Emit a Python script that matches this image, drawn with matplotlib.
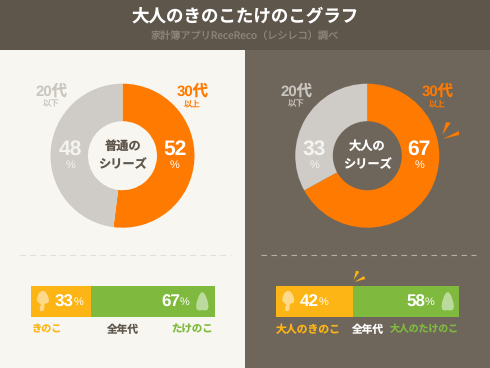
import matplotlib
matplotlib.use('Agg')
import matplotlib.pyplot as plt
from matplotlib.patches import Polygon, Rectangle

plt.rcParams['font.family'] = ['Noto Sans CJK JP', 'DejaVu Sans']
plt.rcParams['text.hinting'] = 'none'
plt.rcParams['text.hinting_factor'] = 1

# Data
donut_left = [52, 48]
donut_right = [67, 33]
bar_left = [33, 67]
bar_right = [42, 58]
age_old = ['30代', '以上']
age_young = ['20代', '以下']
center_left = ['普通の', 'シリーズ']
center_right = ['大人の', 'シリーズ']
title = '大人のきのこたけのこグラフ'
subtitle = '家計簿アプリReceReco（レシレコ）調べ'

# Colours
HEAD = '#5e554b'
LIGHT = '#f7f6f0'
DARK = '#6f665b'
ORANGE = '#ff7a00'
GREY = '#cfccc8'
YELLOW = '#fdb515'
GREEN = '#7fba3e'
W, H = 490, 368
NUM = ['Liberation Sans', 'Noto Sans CJK JP']

fig = plt.figure(figsize=(W / 100, H / 100), dpi=100)

# Background layer in pixel coords
bg = fig.add_axes([0, 0, 1, 1], zorder=0)
bg.set_xlim(0, W)
bg.set_ylim(H, 0)
bg.axis('off')
bg.add_patch(Rectangle((0, 0), W, 50, color=HEAD, lw=0))
bg.add_patch(Rectangle((0, 50), 245, H - 50, color=LIGHT, lw=0))
bg.add_patch(Rectangle((245, 50), 245, H - 50, color=DARK, lw=0))
bg.plot([20, 231], [255, 255], color='#e2dfd8', lw=0.8, dashes=(5, 4))
bg.plot([261, 476], [255, 255], color='#b5afa6', lw=0.8, dashes=(5, 4))


def px_axes(x0, y0, x1, y1, z=1):
	return fig.add_axes([x0 / W, 1 - y1 / H, (x1 - x0) / W, (y1 - y0) / H], zorder=z)


def donut(cx, cy, values) :
	ax = px_axes(cx - 72, cy - 72, cx + 72, cy + 72)
	ax.pie(values, colors=[ORANGE, GREY], startangle=90, counterclock=False,
		radius=1, wedgeprops={'width': 1 - 34.5 / 72, 'linewidth': 0})
	ax.set_xlim(-1, 1)
	ax.set_ylim(-1, 1)
	ax.patch.set_alpha(0)


def stacked_bar(x0, x1, values) :
	ax = px_axes(x0, 286, x1, 316.5)
	ax.barh([0], [values[0]], color=YELLOW, height=1)
	ax.barh([0], [values[1]], left=[values[0]], color=GREEN, height=1)
	ax.set_xlim(0, sum(values))
	ax.set_ylim(-0.5, 0.5)
	ax.axis('off')


donut(122.5, 155.7, donut_left)
donut(367.3, 155.7, donut_right)
stacked_bar(30.5, 214.7, bar_left)
stacked_bar(275.7, 459.3, bar_right)

# Overlay layer for text and icons
top = fig.add_axes([0, 0, 1, 1], zorder=5)
top.set_xlim(0, W)
top.set_ylim(H, 0)
top.axis('off')


def txt(x, y, s, size, color, weight='bold', ha='center', family=None) :
	top.text(x, y, s, fontsize=size, color=color, fontweight=weight, ha=ha, va='center',
		family=family if family else plt.rcParams['font.family'])


txt(245, 16.5, title, 12.6, '#ffffff')
txt(245, 35.5, subtitle, 7.3, '#8f877c', 'regular')


def donut_text(dx, x_young, x_old, x_pyoung, x_pold, values, center, cen_col, young_col) :
	txt(x_young, 91, age_young[0], 11, young_col, family=NUM)
	txt(x_young, 103.5, age_young[1], 6, young_col, 'regular')
	txt(x_old, 91, age_old[0], 11, ORANGE, family=NUM)
	txt(x_old, 103.5, age_old[1], 6, ORANGE, 'regular')
	txt(x_pold, 149.5, str(values[0]), 15, '#ffffff', family=NUM)
	txt(x_pold, 165, '%', 7.8, '#ffffff', 'regular', family=NUM)
	txt(x_pyoung, 149.5, str(values[1]), 15, '#f5f3ee', family=NUM)
	txt(x_pyoung, 165, '%', 7.8, '#f5f3ee', 'regular', family=NUM)
	txt(dx, 146, center[0], 8.8, cen_col)
	txt(dx, 164, center[1], 8.8, cen_col)


donut_text(122.5, 51.7, 192.3, 70, 174.7, donut_left, center_left, HEAD, '#c9c5bf')
donut_text(367.3, 296.7, 437.3, 314, 419.3, donut_right, center_right, '#ffffff', '#c9c5bf')


def mushroom(x) :
	shape = [(-1, 291), (1, 291), (3, 292.5), (5, 296), (6, 300), (5.5, 302.5), (3, 303.5), (1.5, 304),
		(1.2, 309), (0, 311), (-3, 311), (-3.3, 308), (-2, 304.5), (-4, 303), (-6, 301), (-5.8, 297), (-4, 293)]
	pts = [(x + dx, y) for dx, y in shape]
	top.add_patch(Polygon(pts, closed=True, color='#ffd98a', lw=0, zorder=3))


def shoot(x) :
	shape = [(-6.2, 307), (-5.6, 302), (-3.6, 296), (-1.4, 292.6), (0, 292.2), (1.4, 292.6), (3.6, 296),
		(5.6, 302), (6.2, 307), (5, 310), (2.5, 310.5), (0, 310), (-2.5, 310.5), (-5, 310)]
	pts = [(x + dx, y) for dx, y in shape]
	top.add_patch(Polygon(pts, closed=True, color='#bbdb9c', lw=0, zorder=3))


mushroom(43)
mushroom(288.3)
shoot(202.3)
shoot(447.7)


def bar_pct(x_num, x_sign, value) :
	txt(x_num, 302, str(value), 12, '#ffffff', ha='left', family=NUM)
	txt(x_sign, 302.5, '%', 8, '#ffffff', 'regular', ha='left', family=NUM)


bar_pct(55, 73.3, bar_left[0])
bar_pct(161.7, 180, bar_left[1])
bar_pct(300, 318.3, bar_right[0])
bar_pct(406, 424.3, bar_right[1])

txt(31.7, 329.3, 'きのこ', 7.3, YELLOW, ha='left')
txt(122.3, 329.3, '全年代', 7.7, HEAD)
txt(212.7, 329.3, 'たけのこ', 7.5, GREEN, ha='right')
txt(276, 329.3, '大人のきのこ', 7.8, YELLOW, ha='left')
txt(367.3, 329.3, '全年代', 7.7, '#ffffff')
txt(458.7, 329.3, '大人のたけのこ', 7.1, GREEN, ha='right')

# Little emphasis bursts
for pts in [[(446, 122.3), (450.7, 122.7), (442.3, 135)], [(459, 131), (459, 135), (442.7, 139)]] :
	top.add_patch(Polygon(pts, closed=True, color=ORANGE, lw=0))
for pts in [[(356, 270.7), (359.3, 271.7), (353.7, 280)], [(364, 276), (365.3, 279), (354.3, 282)]] :
	top.add_patch(Polygon(pts, closed=True, color=YELLOW, lw=0))

fig.savefig('out.png', dpi=100)
